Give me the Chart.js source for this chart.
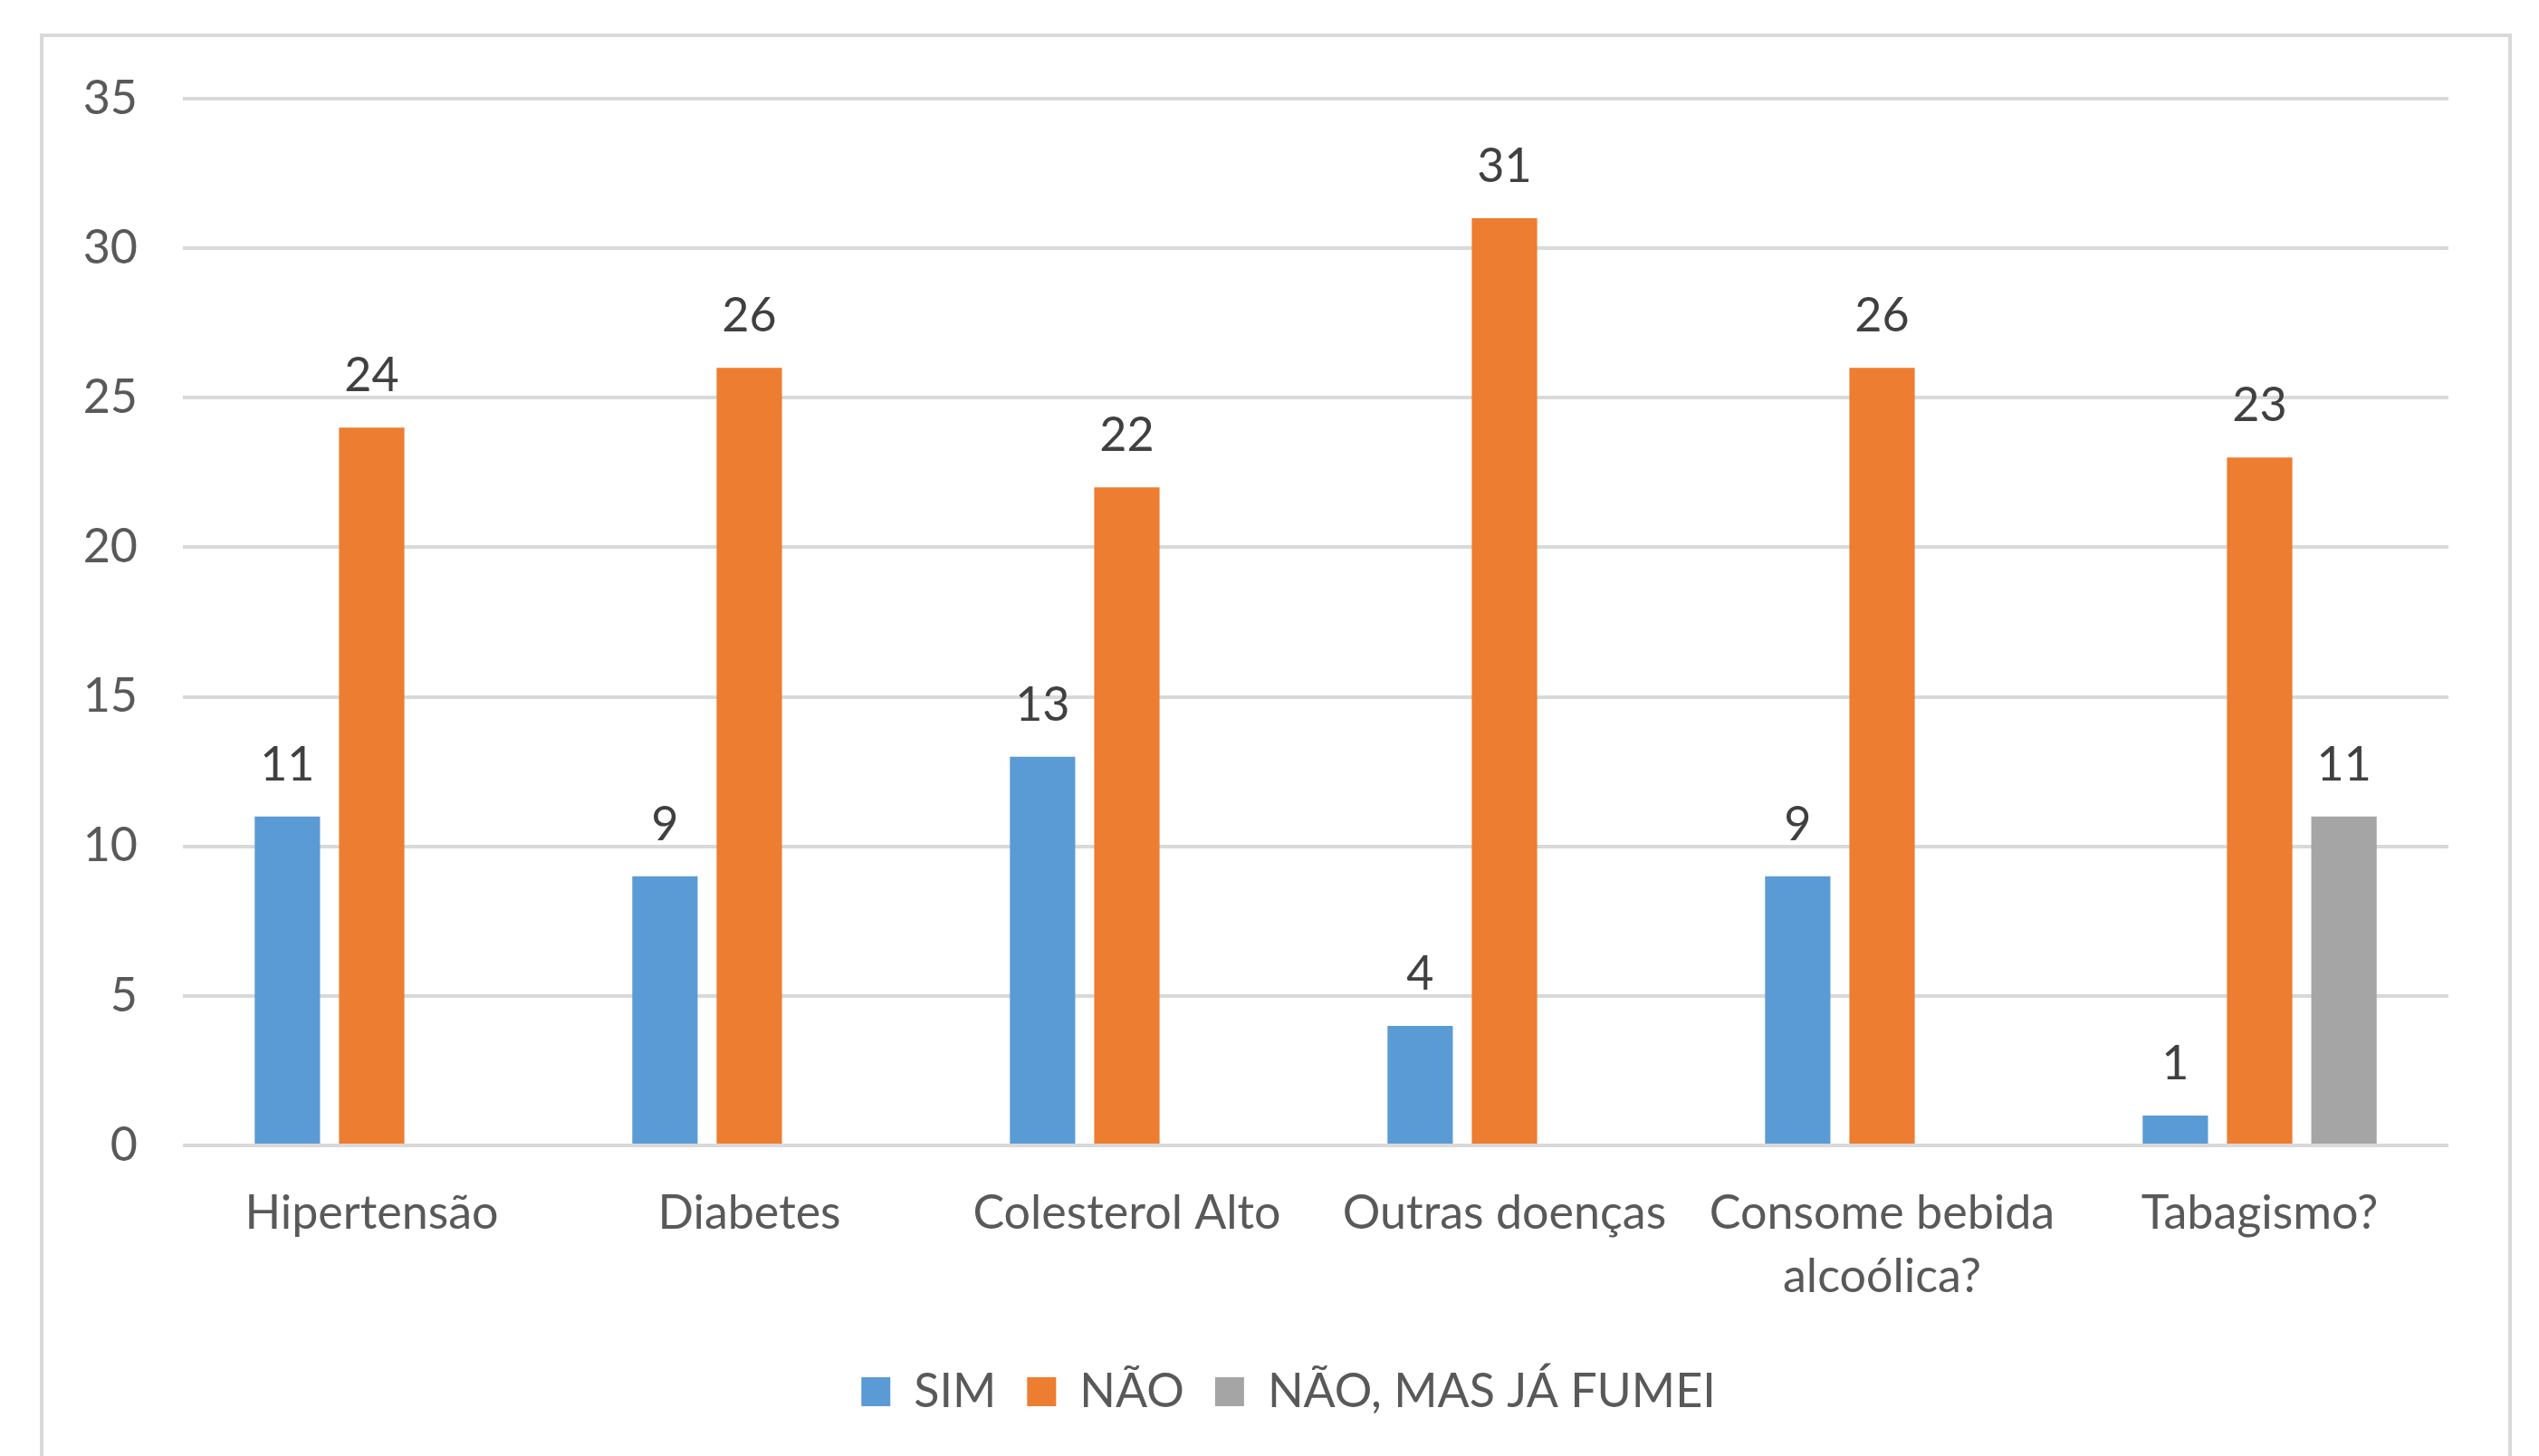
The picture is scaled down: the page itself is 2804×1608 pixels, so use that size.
<!DOCTYPE html>
<html>
<head>
<meta charset="utf-8">
<script src="https://cdn.jsdelivr.net/npm/chart.js@4"></script>
<style>
    html, body { margin: 0; padding: 0; background: #fff; overflow: hidden; }
    #frame {
        position: absolute; left: 44px; top: 37px;
        width: 2730px; height: 1640px;
        border: 4px solid #d9d9d9; box-sizing: border-box;
    }
    #wrap { position: absolute; left: 0; top: 0; width: 2804px; height: 1608px; }
</style>
</head>
<body>
<div id="frame"></div>
<div id="wrap"><canvas id="chart" width="2804" height="1608"></canvas></div>
<script>
    const categories = ['Hipertensão', 'Diabetes', 'Colesterol Alto', 'Outras doenças', ['Consome bebida', 'alcoólica?'], 'Tabagismo?'];
    const sim = [11, 9, 13, 4, 9, 1];
    const nao = [24, 26, 22, 31, 26, 23];
    const naoJaFumei = [null, null, null, null, null, 11];
    const yTicks = [0, 5, 10, 15, 20, 25, 30, 35];

    const fontFamily = 'Lato, "Liberation Sans", sans-serif';
    const textColor = '#595959';

    // values above bars
    const barLabels = {
        id: 'barLabels',
        afterDatasetsDraw(chart) {
            let ctx = chart.ctx;
            ctx.save();
            ctx.font = '52px ' + fontFamily;
            ctx.fillStyle = '#404040';
            ctx.textAlign = 'center';
            ctx.textBaseline = 'alphabetic';
            chart.data.datasets.forEach((ds, i) => {
                chart.getDatasetMeta(i).data.forEach((bar, j) => {
                    if (ds.data[j] == null) return;
                    ctx.fillText(ds.data[j], bar.x, bar.y - 40);
                });
            });
            ctx.restore();
        }
    };

    // centre the legend a bit right of the canvas centre, like the original
    const legendShift = {
        id: 'legendShift',
        afterLayout(chart) {
            let lg = chart.legend;
            lg.left = 142;
            lg.right = chart.chartArea.right;
            lg.width = lg.right - lg.left;
        }
    };

    new Chart(document.getElementById('chart'), {
        type: 'bar',
        data: {
            labels: categories,
            datasets: [
                { label: 'SIM', data: sim, backgroundColor: '#5b9bd5' },
                { label: 'NÃO', data: nao, backgroundColor: '#ed7d31' },
                { label: 'NÃO, MAS JÁ FUMEI', data: naoJaFumei, backgroundColor: '#a5a5a5' }
            ]
        },
        options: {
            responsive: false,
            animation: false,
            devicePixelRatio: 1,
            layout: { padding: { top: 109, right: 100, bottom: 35, left: 0 } },
            datasets: { bar: { barPercentage: 0.775, categoryPercentage: 0.67 } },
            plugins: {
                tooltip: { enabled: false },
                legend: {
                    position: 'bottom',
                    labels: {
                        boxWidth: 32, boxHeight: 32, padding: 34,
                        color: textColor,
                        font: { family: fontFamily, size: 52 }
                    }
                }
            },
            scales: {
                x: {
                    grid: { display: false },
                    border: { display: false },
                    ticks: {
                        color: textColor, padding: 33, maxRotation: 0, autoSkip: false,
                        font: { family: fontFamily, size: 52, lineHeight: 1.33 }
                    },
                    afterFit: (axis) => { axis.height = 212; }
                },
                y: {
                    min: 0, max: 35,
                    afterBuildTicks: (axis) => { axis.ticks = yTicks.map(v => ({ value: v })); },
                    grid: { color: '#d9d9d9', lineWidth: 4, drawTicks: false },
                    border: { display: false },
                    ticks: {
                        color: textColor, padding: 50,
                        font: { family: fontFamily, size: 52 }
                    },
                    afterFit: (axis) => { axis.width = 202; }
                }
            }
        },
        plugins: [barLabels, legendShift]
    });
</script>
</body>
</html>
